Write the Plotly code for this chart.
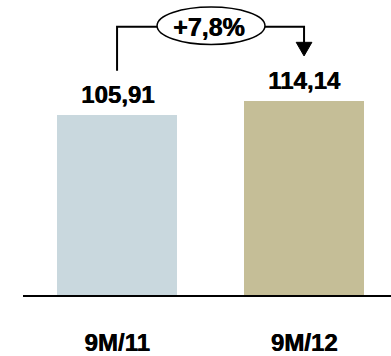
import plotly.graph_objects as go

categories = ["9M/11", "9M/12"]
values = [105.91, 114.14]
bar_colors = ["#C9D8DE", "#C5BE97"]

growth = (values[1] / values[0] - 1) * 100
growth_label = "+" + f"{growth:.1f}".replace(".", ",") + "%"
value_labels = [f"{v:.2f}".replace(".", ",") for v in values]

FONT = "Liberation Sans, Arial, sans-serif"
SHADOW = "0.6px 0px 0px black"
x = list(range(len(categories)))

fig = go.Figure()
fig.add_trace(go.Bar(
    x=x, y=values, width=0.642,
    marker=dict(color=bar_colors, line=dict(width=0)),
    hoverinfo="skip",
))

# value labels
for xi, v, lab in zip(x, values, value_labels):
    fig.add_annotation(x=xi, y=v, text=lab, showarrow=False,
                       yanchor="middle", yshift=20,
                       font=dict(family=FONT, size=24, color="black",
                                 weight="bold", shadow=SHADOW))

# growth bracket
top = max(values) + 43.5
start = values[0] + 25.9
tip = values[1] + 26.3
ell_l, ell_r = 0.214, 0.791
mid = (ell_l + ell_r) / 2
line = dict(color="black", width=2)
fig.add_shape(type="path", xref="x", yref="y",
              path=f"M {x[0]},{start} L {x[0]},{top} L {ell_l},{top}", line=line)
fig.add_shape(type="path", xref="x", yref="y",
              path=f"M {ell_r},{top} L {x[1]},{top} L {x[1]},{tip + 7}", line=line)
fig.add_shape(type="path", xref="x", yref="y",
              path=f"M {x[1]-0.042},{tip + 8} L {x[1]+0.042},{tip + 8} L {x[1]},{tip} Z",
              line=dict(color="black", width=1), fillcolor="black")
fig.add_shape(type="circle", xref="x", yref="y",
              x0=ell_l, x1=ell_r, y0=top - 10.5, y1=top + 11.5,
              line=dict(color="black", width=1.5), fillcolor="white")
fig.add_annotation(x=mid - 0.01, y=top, text=growth_label, showarrow=False,
                   yanchor="middle", yshift=0,
                   font=dict(family=FONT, size=25, color="black",
                             weight="bold", shadow=SHADOW))

fig.update_layout(
    width=391, height=356,
    margin=dict(l=23, r=0, t=0, b=55),
    paper_bgcolor="white", plot_bgcolor="white",
    showlegend=False,
    bargap=0,
    xaxis=dict(range=[-0.503, 1.465], tickvals=x, ticktext=categories,
               showline=True, linecolor="black", linewidth=2,
               showgrid=False, zeroline=False, ticks="",
               ticklabelstandoff=25,
               tickfont=dict(family=FONT, size=24, color="black",
                             weight="bold", shadow=SHADOW),
               fixedrange=True),
    yaxis=dict(range=[0, 173.3], visible=False, showgrid=False, zeroline=False,
               fixedrange=True),
)

fig.write_html("out.html", config={"displayModeBar": False})
